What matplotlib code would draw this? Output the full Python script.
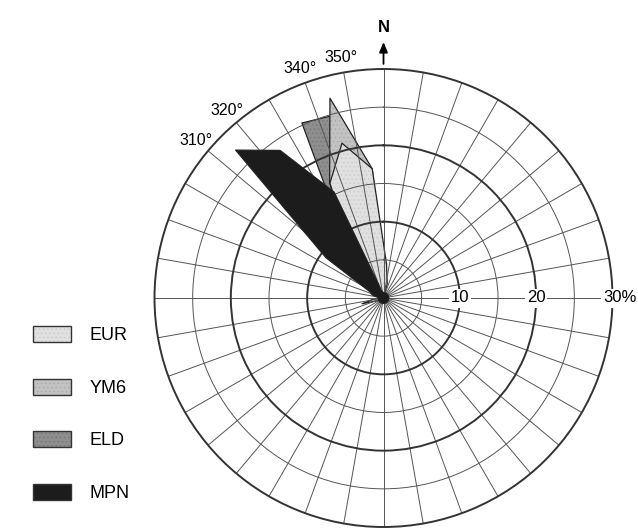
import numpy as np
import matplotlib
matplotlib.use('Agg')
import matplotlib.pyplot as plt
from matplotlib.patches import Patch

plt.rcParams['font.family'] = ['Liberation Sans', 'DejaVu Sans']
plt.rcParams['hatch.linewidth'] = 0.5

# centre azimuth of each 10-degree bin (clockwise from north)
bin_centres = np.arange(5, 360, 10)

# percentage of measurements falling in each bin
eur = [4.5, 1.9, 0, 0, 0, 0, 0, 0, 0, 0, 0, 0,
       0, 0, 0, 0, 0, 0, 0, 0, 0, 0, 0, 0,
       0.8, 2.9, 1.2, 0, 0, 0, 0, 0, 7.0, 16.6, 21.0, 17.0]
ym6 = [2.0, 0, 0, 0, 0, 0, 0, 0, 0, 0, 0, 0,
       0, 0, 0, 0, 0, 0, 0, 0, 0, 0, 0, 0,
       0, 0, 0, 0, 0, 0, 0, 0, 8.0, 16.7, 27.1, 17.0]
eld = [1.5, 0, 0, 0, 0, 0, 0, 0, 0, 0, 0, 0,
       0, 0, 0, 0, 0, 0, 0, 0, 0, 0, 0, 0,
       0, 0, 0, 0, 0, 0, 0, 2.0, 8.3, 25.3, 24.8, 10.0]
mpn = [0.7, 0.7, 0.7, 0.7, 0.7, 0.7, 0.7, 0.7, 0.7, 0.7, 0.7, 0.7,
       0.7, 0.7, 0.7, 0.7, 0.7, 0.7, 0.7, 0.7, 0.7, 0.7, 0.7, 0.7,
       0.7, 0.7, 0.7, 0.7, 1.5, 2.0, 9.2, 27.4, 23.6, 15.3, 1.0, 0.7]

series_names = ['EUR', 'YM6', 'ELD', 'MPN']
series_values = [eur, ym6, eld, mpn]
series_colors = ['#e0e0e0', '#c2c2c2', '#8e8e8e', '#1c1c1c']
stipple_colors = ['#cacaca', '#aaaaaa', '#767676', '#1c1c1c']
series_zorder = [1.3, 1.2, 1.1, 2.2]   # grey petals under the grid, MPN over it

ring_values = [5, 10, 15, 20, 25]
ring_labels = ['10', '20']
azimuth_labels = [310, 320, 340, 350]

fig = plt.figure(figsize=(6.38, 5.31), dpi=100)
ax = fig.add_axes([154.5 / 638, 4 / 531, 458 / 638, 458 / 531], projection='polar')
ax.set_theta_zero_location('N')
ax.set_theta_direction(-1)
ax.set_ylim(0, 30)

ax.set_xticks(np.deg2rad(np.arange(0, 360, 10)))
ax.set_xticklabels([])
ax.set_yticks(ring_values)
ax.set_yticklabels([])
ax.tick_params(length=0)
ax.grid(True, color='#555555', lw=0.7)
for val, line in zip(ring_values, ax.yaxis.get_gridlines()):
    if val % 10 == 0:
        line.set_linewidth(1.4)
        line.set_color('#333333')
ax.spines['polar'].set_linewidth(1.4)
ax.spines['polar'].set_color('#333333')

theta = np.deg2rad(np.append(bin_centres, bin_centres[0]))
for i in range(len(series_names)):
    r = np.append(series_values[i], series_values[i][0])
    z = series_zorder[i]
    hatch = None if series_names[i] == 'MPN' else '....'
    ax.fill(theta, r, facecolor=series_colors[i], edgecolor=stipple_colors[i],
            lw=0, hatch=hatch, zorder=z)
    ax.plot(theta, r, color='#222222', lw=0.9, zorder=z + 0.05)

# azimuth labels outside the rim
for a in azimuth_labels:
    ax.text(np.deg2rad(a), 32.0, f'{a}°', ha='center', va='center',
            fontsize=11.5)

# percentage scale along the east spoke
box = dict(facecolor='white', edgecolor='none', pad=1.5)
for lab in ring_labels:
    ax.text(np.pi / 2, float(lab), lab, ha='center', va='center',
            fontsize=12, bbox=box, zorder=5)
ax.annotate('30%', xy=(np.pi / 2, 30), xytext=(-6.7, 0),
            textcoords='offset points', ha='left', va='center',
            fontsize=12, bbox=box, zorder=5, annotation_clip=False)

# north arrow
ax.annotate('', xy=(0, 33.9), xytext=(0, 30.3),
            arrowprops=dict(arrowstyle='-|>,head_length=0.6,head_width=0.25',
                            color='black', lw=1.3),
            annotation_clip=False)
ax.text(0, 35.5, 'N', ha='center', va='center', fontsize=12,
        fontweight='bold')

# each swatch = stippled fill with a dark frame laid over it
handles = []
for c, s, n in zip(series_colors, stipple_colors, series_names):
    hatch = None if n == 'MPN' else '....'
    fill = Patch(facecolor=c, edgecolor=s, lw=0, hatch=hatch)
    frame = Patch(facecolor='none', edgecolor='#333333', lw=1)
    handles.append((fill, frame))
fig.legend(handles, series_names, loc='upper left',
           bbox_to_anchor=(33 / 638, 1 - 326 / 531), frameon=False,
           fontsize=13, handlelength=2.1, handleheight=1.0,
           handletextpad=1.05, labelspacing=1.9, borderpad=0,
           borderaxespad=0)

fig.savefig('out.png', dpi=100)
